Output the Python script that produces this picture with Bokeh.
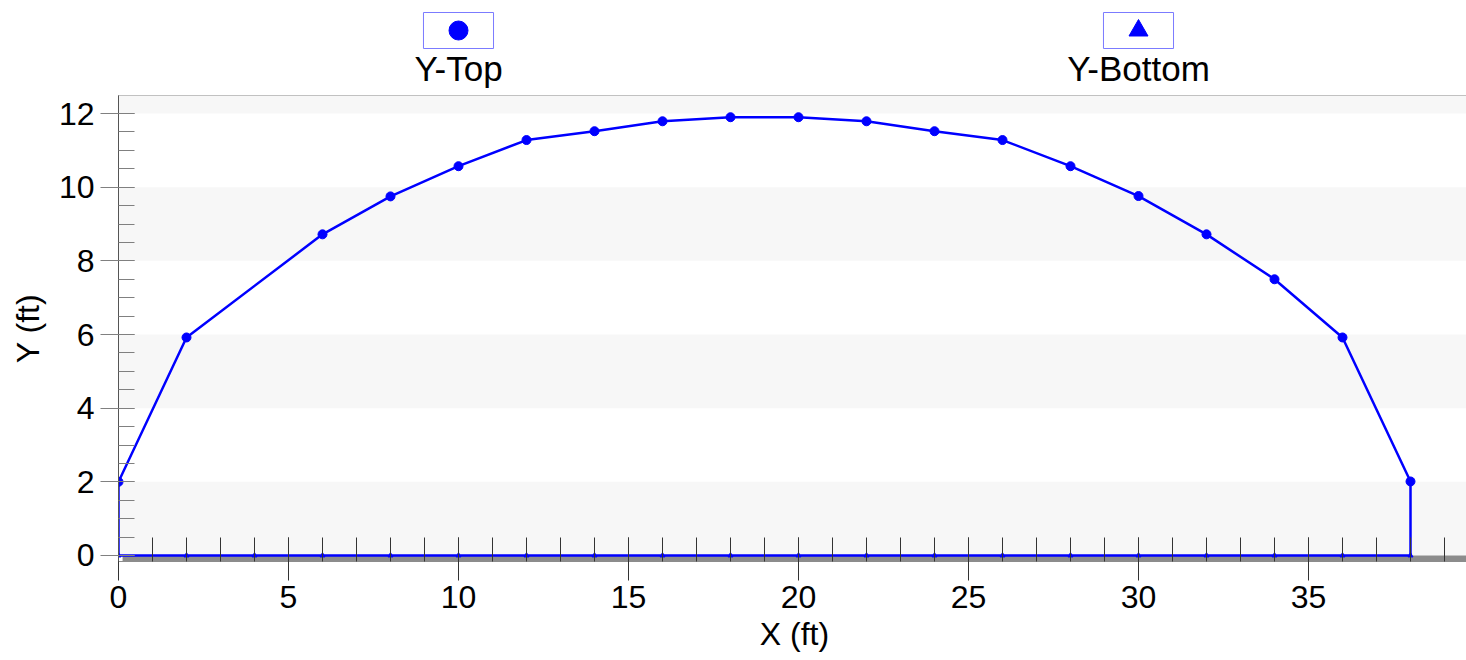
from bokeh.plotting import figure
from bokeh.layouts import column
from bokeh.models import Range1d, SingleIntervalTicker, BoxAnnotation
from bokeh.core.properties import value
from bokeh.embed import file_html
from bokeh.resources import INLINE

# ---- data ----
x_top = [0, 2, 6, 8, 10, 12, 14, 16, 18, 20, 22, 24, 26, 28, 30, 32, 34, 36, 38]
y_top = [2.0, 5.92, 8.72, 9.75, 10.57, 11.28, 11.52, 11.79, 11.9, 11.9, 11.79, 11.52,
         11.28, 10.57, 9.76, 8.72, 7.5, 5.92, 2.01]
x_bottom = [0, 0, 2, 4, 6, 8, 10, 12, 14, 16, 18, 20, 22, 24, 26, 28, 30, 32, 34, 36, 38, 38]
y_bottom = [2.0, 0, 0, 0, 0, 0, 0, 0, 0, 0, 0, 0, 0, 0, 0, 0, 0, 0, 0, 0, 0, 2.01]
series_names = ["Y-Top", "Y-Bottom"]
y_band_ticks = [0, 2, 4, 6, 8, 10, 12]

FONT = "Liberation Sans"
BLUE = "#0000ff"
LEFT = 118
FW, FH = 1352, 466
xr = Range1d(0, FW / 34.0)
yr = Range1d(-0.163, -0.163 + FH / 36.83)

p = figure(frame_width=FW, frame_height=FH, x_range=xr, y_range=yr,
           output_backend="svg", toolbar_location=None,
           min_border_left=LEFT, min_border_right=0, min_border_top=0, min_border_bottom=90)
p.grid.visible = False
p.outline_line_color = "#8a8a8a"
p.background_fill_color = "white"

# alternating bands
for b in y_band_ticks[0::2]:
    p.add_layout(BoxAnnotation(bottom=b, top=b + 2, fill_color="#f7f7f7", fill_alpha=1,
                               line_color=None, level="underlay"))
# gray base bar below zero
p.add_layout(BoxAnnotation(bottom=yr.start, top=0, left=0.12, fill_color="#8c8c8c", fill_alpha=1,
                           line_color=None, level="underlay"))

p.line(x_bottom, y_bottom, line_color=BLUE, line_width=2.5)
p.scatter(x_bottom, y_bottom, marker="triangle", size=5, color=BLUE)
p.line(x_top, y_top, line_color=BLUE, line_width=2.5)
p.scatter(x_top, y_top, marker="circle", size=9, color=BLUE)

# axes
p.xaxis.ticker = SingleIntervalTicker(interval=5, num_minor_ticks=5)
p.yaxis.ticker = SingleIntervalTicker(interval=2, num_minor_ticks=4)
p.xaxis.axis_label = "X (ft)"
p.yaxis.axis_label = "Y (ft)"
for ax in (p.xaxis[0], p.yaxis[0]):
    ax.axis_label_text_font = FONT
    ax.axis_label_text_font_size = "32px"
    ax.axis_label_text_font_style = "normal"
    ax.axis_label_text_color = "black"
    ax.major_label_text_font = FONT
    ax.major_label_text_font_size = "32px"
    ax.major_label_text_color = "black"
    ax.minor_tick_out = 0

xa = p.xaxis[0]
xa.axis_line_color = "#8c8c8c"
xa.axis_line_width = 1
xa.major_tick_in = 24
xa.major_tick_out = 19
xa.minor_tick_in = 24
xa.major_tick_line_color = "#333333"
xa.minor_tick_line_color = "#333333"
xa.major_label_standoff = 5
xa.axis_label_standoff = 5

ya = p.yaxis[0]
ya.axis_line_color = "#555555"
ya.major_tick_in = 16
ya.major_tick_out = 18
ya.minor_tick_in = 16
ya.major_tick_line_color = "#808080"
ya.minor_tick_line_color = "#808080"
ya.major_label_standoff = 6
ya.axis_label_standoff = 10

# ---- legend strip above ----
LH = 95
lg = figure(frame_width=FW, frame_height=LH, x_range=xr, y_range=Range1d(0, LH),
            output_backend="svg", toolbar_location=None,
            min_border_left=LEFT, min_border_right=0, min_border_top=0, min_border_bottom=0)
lg.axis.visible = False
lg.grid.visible = False
lg.outline_line_color = None
legend_x = [10, 30]
lg.rect(x=legend_x, y=[65, 65], width=2.06, height=36, fill_color="white",
        line_color="#7b7bff", line_width=1)
lg.scatter(x=[legend_x[0]], y=[65], marker="circle", size=19, color=BLUE)
lg.scatter(x=[legend_x[1]], y=[65], marker="triangle", size=19, color=BLUE)
lg.text(x=legend_x, y=[27, 27], text=series_names, text_align="center",
        text_baseline="alphabetic", text_font=value(FONT), text_font_size="35px",
        text_color="black")

layout = column(lg, p, spacing=0)
open("out.html", "w").write(file_html(layout, INLINE))
